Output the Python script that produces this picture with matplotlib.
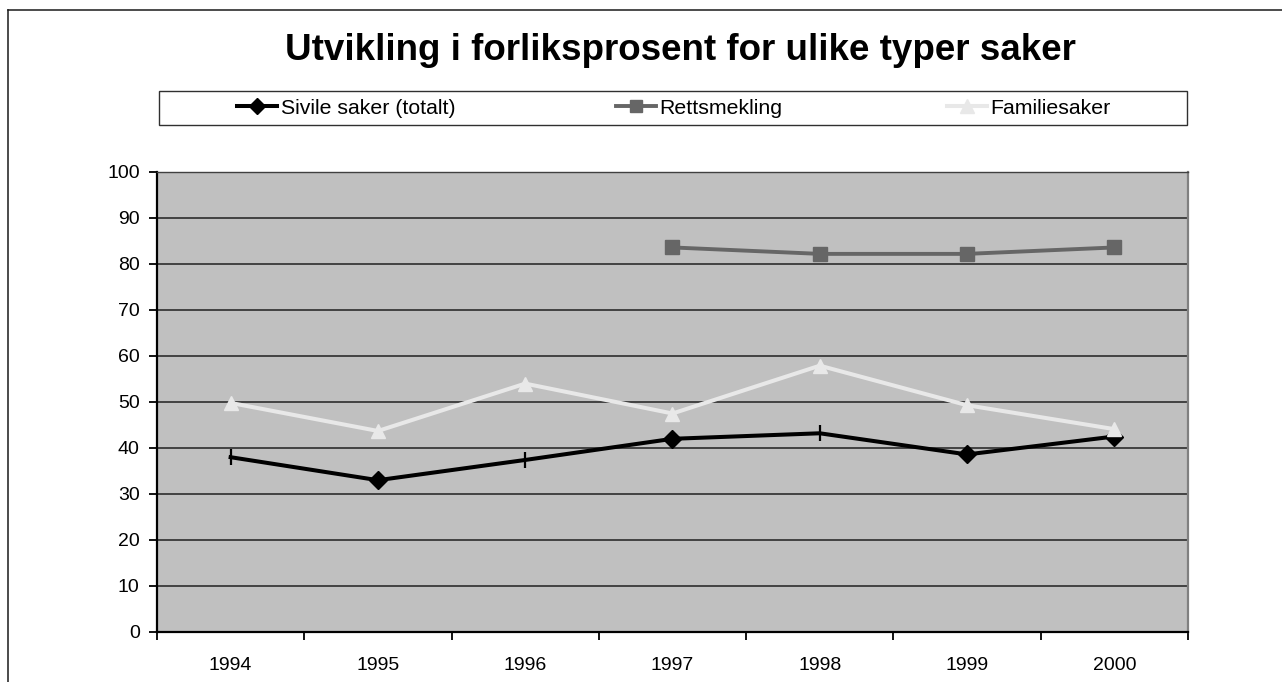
import numpy as np
import matplotlib
matplotlib.use('Agg')
import matplotlib.pyplot as plt
from matplotlib.lines import Line2D
from matplotlib.patches import Rectangle

plt.rcParams['font.family'] = ['Liberation Sans', 'DejaVu Sans']

# ------------------------------------------------------------------ data --
years        = ['1994', '1995', '1996', '1997', '1998', '1999', '2000']
sivile       = [38.0, 33.0, 37.4, 42.0, 43.2, 38.6, 42.5]
rettsmekling = [np.nan, np.nan, np.nan, 83.6, 82.2, 82.2, 83.6]
familiesaker = [49.8, 43.7, 54.0, 47.5, 57.9, 49.3, 44.1]

title = 'Utvikling i forliksprosent for ulike typer saker'

# ----------------------------------------------------------------- figure --
W, H = 1282, 682
fig = plt.figure(figsize=(W / 100, H / 100), dpi=100)
fig.patch.set_facecolor('white')

def fx(px):
    return px / W

def fy(py):
    return 1 - py / H

# outer chart frame (only top and left edges are visible)
fig.add_artist(Line2D([fx(8), 1.0], [fy(10), fy(10)], color='#1a1a1a', lw=1.1))
fig.add_artist(Line2D([fx(8), fx(8)], [0.0, fy(10)], color='#1a1a1a', lw=1.1))

ax = fig.add_axes([fx(157), fy(632), fx(1188) - fx(157), fy(172) - fy(632)])
ax.set_facecolor('#c0c0c0')

x = np.arange(len(years))

l_siv, = ax.plot(x, sivile, color='black', lw=2.9, marker='D', markersize=9,
                 markevery=[1, 3, 5, 6], zorder=3)
# a few points of this series show up as plain vertical ticks
ax.plot(x, sivile, ls='none', marker='|', color='black', markersize=11,
        mew=1.6, markevery=[0, 2, 4], zorder=3)
l_ret, = ax.plot(x, rettsmekling, color='#666666', lw=2.8, marker='s',
                 markersize=10, zorder=3)
l_fam, = ax.plot(x, familiesaker, color='#e8e8e8', lw=2.9, marker='^',
                 markersize=10.5, zorder=4)

ax.set_xlim(-0.5, len(years) - 0.5)
ax.set_ylim(0, 100)
ax.set_yticks(np.arange(0, 101, 10))
ax.yaxis.grid(True, color='#202020', lw=1.1)
ax.set_axisbelow(True)

# category ticks sit between the years, labels centred on each year
ax.set_xticks(np.arange(-0.5, len(years), 1.0))
ax.set_xticklabels([])
ax.set_xticks(x, minor=True)
ax.set_xticklabels(years, minor=True)
ax.tick_params(axis='x', which='major', length=6, width=1.3, color='black')
ax.tick_params(axis='x', which='minor', length=0, pad=18, labelsize=14)
ax.tick_params(axis='y', length=6, width=1.3, pad=6.5, labelsize=14)

ax.spines['left'].set_linewidth(1.6)
ax.spines['bottom'].set_linewidth(1.6)
ax.spines['top'].set_linewidth(1.0)
ax.spines['top'].set_color('#404040')
ax.spines['right'].set_linewidth(1.6)
ax.spines['right'].set_color('#808080')

# ----------------------------------------------------------------- title --
fig.text(fx(680), fy(60), title, ha='center', va='baseline',
         fontsize=26.5, fontweight='bold')

# ---------------------------------------------------------------- legend --
fig.add_artist(Rectangle((fx(159), fy(125)), fx(1187) - fx(159),
                         fy(91.5) - fy(125), transform=fig.transFigure,
                         facecolor='white', edgecolor='#303030', lw=1.0))

for handle, label, start in [(l_siv, 'Sivile saker (totalt)', 237),
                             (l_ret, 'Rettsmekling', 616),
                             (l_fam, 'Familiesaker', 947)]:
    h = Line2D([], [], color=handle.get_color(), lw=handle.get_linewidth(),
               marker=handle.get_marker(), markersize=handle.get_markersize() * 0.9)
    fig.legend([h], [label], loc='center left',
               bbox_to_anchor=(fx(start), fy(108)), frameon=False,
               borderpad=0, borderaxespad=0, handlelength=1.9,
               handletextpad=0.15, fontsize=15.3)

fig.savefig('out.png', dpi=100, facecolor='white')
